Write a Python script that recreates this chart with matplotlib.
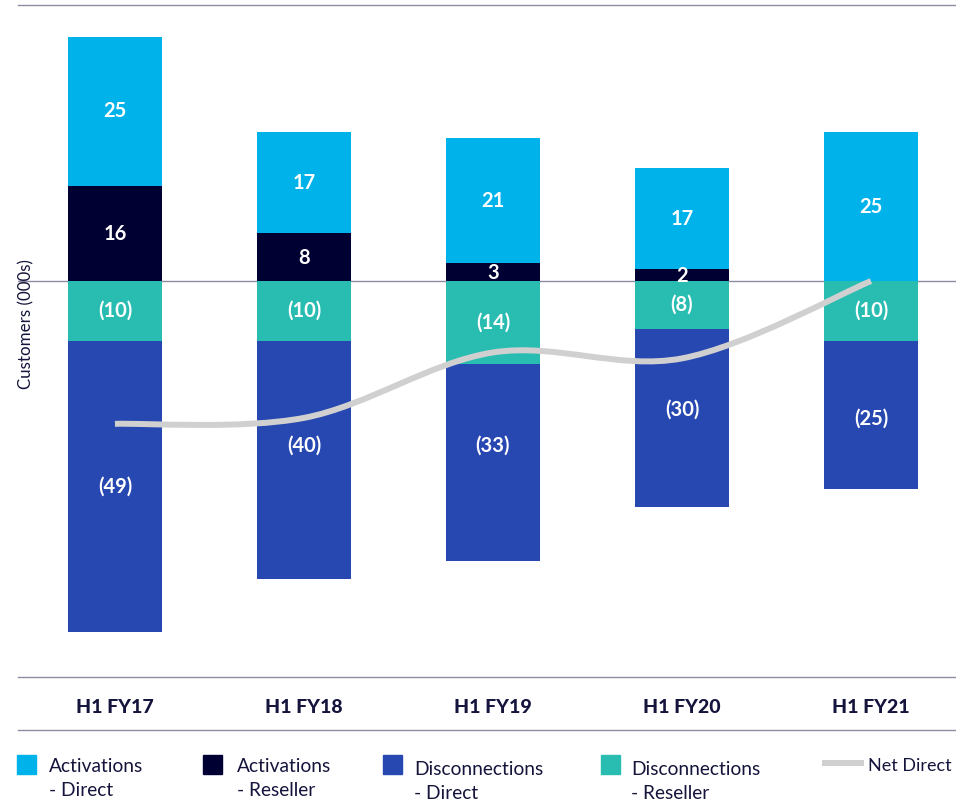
import matplotlib
matplotlib.use("Agg")
import matplotlib.pyplot as plt
from matplotlib.path import Path
from matplotlib.patches import PathPatch, Rectangle
from matplotlib.lines import Line2D
import matplotlib.transforms as mtransforms
import numpy as np

plt.rcParams['font.family'] = ['Lato', 'DejaVu Sans']

# data, customers in 000s
periods = ['H1 FY17', 'H1 FY18', 'H1 FY19', 'H1 FY20', 'H1 FY21']
act_direct = [25, 17, 21, 17, 25]
act_reseller = [16, 8, 3, 2, 0]
disc_reseller = [-10, -10, -14, -8, -10]
disc_direct = [-49, -40, -33, -30, -25]
net_direct = [-24, -23, -12, -13, 0]

C_ACT_DIR = '#00b2ea'
C_ACT_RES = '#000033'
C_DISC_DIR = '#2747b1'
C_DISC_RES = '#29bdb1'
C_NET = '#d0d0d0'
C_RULE = '#8c8ca3'
C_TEXT = '#14143c'

W, H = 956, 802


def px(x, y):
    # pixel (top-left origin) -> figure fraction
    return x / W, 1 - y / H


fig = plt.figure(figsize=(W / 100, H / 100), dpi=100)
ax = fig.add_axes([18 / W, 1 - 677 / H, (W - 18) / W, (677 - 5) / H])

x = np.arange(len(periods))
bw = 0.497

act_res_arr = np.array(act_reseller)
disc_res_arr = np.array(disc_reseller)

ax.bar(x, act_reseller, bw, color=C_ACT_RES, zorder=2)
ax.bar(x, act_direct, bw, bottom=act_res_arr, color=C_ACT_DIR, zorder=2)
ax.bar(x, disc_reseller, bw, color=C_DISC_RES, zorder=2)
ax.bar(x, disc_direct, bw, bottom=disc_res_arr, color=C_DISC_DIR, zorder=2)

ax.axhline(0, color=C_RULE, lw=1.0, zorder=1)

# segment labels (small nudges on the disconnection-direct labels)
nudge = [0, 2.3, 2.8, 1.3, -0.7]
lab_kw = dict(ha='center', va='center', color='white', fontsize=14.5,
              fontweight='bold', zorder=4)
for i in range(len(periods)):
    ax.text(x[i], act_reseller[i] + act_direct[i] / 2, str(act_direct[i]), **lab_kw)
    if act_reseller[i] > 0:
        ax.text(x[i], act_reseller[i] / 2 - 0.1, str(act_reseller[i]), **lab_kw)
    ax.text(x[i], disc_reseller[i] / 2, '(%d)' % -disc_reseller[i], **lab_kw)
    ax.text(x[i], disc_reseller[i] + disc_direct[i] / 2 + nudge[i],
            '(%d)' % -disc_direct[i], **lab_kw)

# smoothed net direct line (catmull-rom through the points)
pts = np.column_stack([x, net_direct]).astype(float)
verts = [pts[0]]
codes = [Path.MOVETO]
for i in range(len(pts) - 1):
    p0 = pts[i - 1] if i > 0 else pts[i]
    p1 = pts[i]
    p2 = pts[i + 1]
    p3 = pts[i + 2] if i + 2 < len(pts) else pts[i + 1]
    c1 = p1 + (p2 - p0) / 6.0
    c2 = p2 - (p3 - p1) / 6.0
    verts += [c1, c2, p2]
    codes += [Path.CURVE4] * 3
ax.add_patch(PathPatch(Path(verts, codes), fill=False, edgecolor=C_NET,
                       lw=4.3, capstyle='butt', zorder=3))

ax.set_xlim(-0.513, 4.45)
ax.set_ylim(-66.55, 46.4)
ax.set_xticks([])
ax.set_yticks([])
for s in ['left', 'right']:
    ax.spines[s].set_visible(False)
for s in ['top', 'bottom']:
    ax.spines[s].set_color(C_RULE)
    ax.spines[s].set_linewidth(1.0)

# category labels under the axis
trans = mtransforms.blended_transform_factory(ax.transData, fig.transFigure)
for i, p in enumerate(periods):
    ax.text(x[i], 1 - 713 / H, p, transform=trans, ha='center', va='baseline',
            fontsize=14, fontweight='black', color=C_TEXT, clip_on=False)

fig.add_artist(Line2D([18 / W, 1], [1 - 730 / H] * 2, color=C_RULE, lw=1.0))

fig.text(*px(26, 324), 'Customers (000s)', rotation=90, ha='center',
         va='center', fontsize=12.2, color=C_TEXT)

# legend
legend_items = [
    (17, 755, C_ACT_DIR, 49, 772, 'Activations', '- Direct'),
    (203, 755, C_ACT_RES, 237, 772, 'Activations', '- Reseller'),
    (383, 755, C_DISC_DIR, 414, 775, 'Disconnections', '- Direct'),
    (601, 755, C_DISC_RES, 631, 775, 'Disconnections', '- Reseller'),
]
for sx, sy, col, tx, ty, l1, l2 in legend_items:
    fx, fy = px(sx, sy + 19)
    fig.add_artist(Rectangle((fx, fy), 19 / W, 19 / H, color=col,
                             transform=fig.transFigure))
    fig.text(*px(tx, ty), l1, ha='left', va='baseline', fontsize=13.8, color=C_TEXT)
    fig.text(*px(tx, ty + 24), l2, ha='left', va='baseline', fontsize=13.8, color=C_TEXT)

lx0, ly = px(825, 763)
lx1, _ = px(861, 763)
fig.add_artist(Line2D([lx0, lx1], [ly, ly], color=C_NET, lw=4.3))
fig.text(*px(868, 771), 'Net Direct', ha='left', va='baseline', fontsize=13.0,
         color=C_TEXT)

fig.savefig('out.png', dpi=100)
